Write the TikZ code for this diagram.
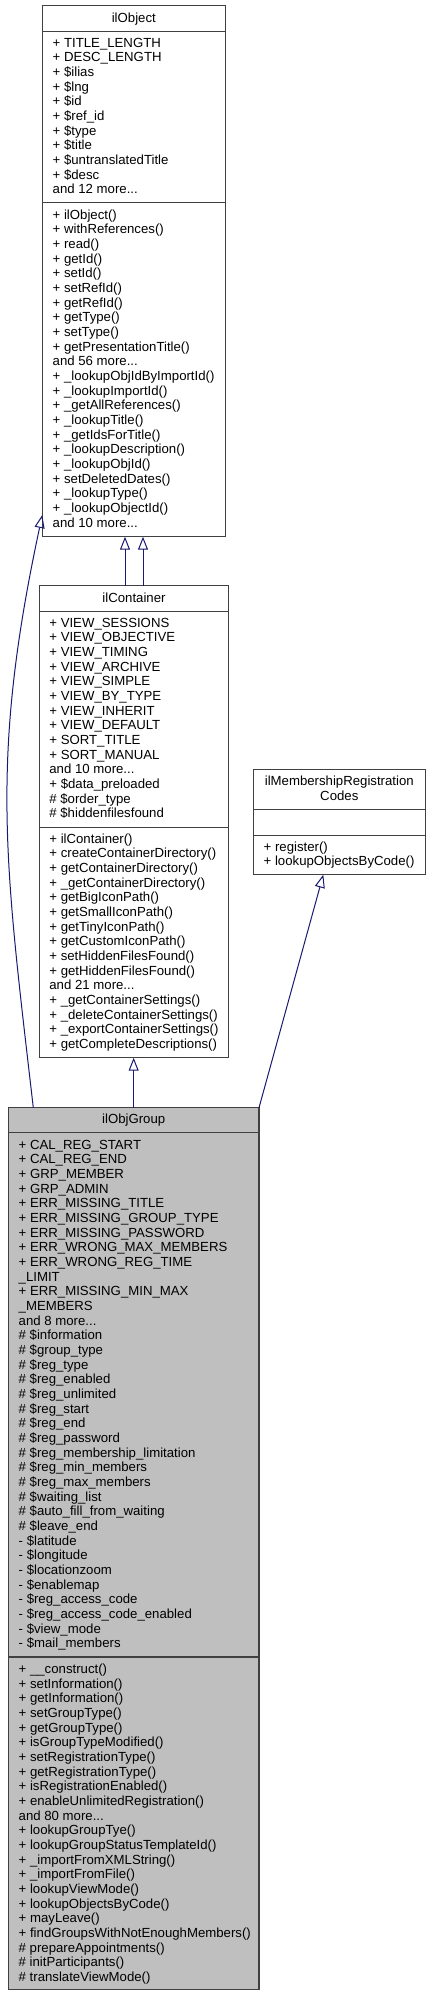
\documentclass[tikz,border=0pt]{standalone}
\usepackage{fontspec}
\setmainfont{Liberation Sans}
\usetikzlibrary{arrows.meta}
\definecolor{edgeblue}{HTML}{191970}
\definecolor{boxline}{HTML}{404040}
\definecolor{grpfill}{HTML}{BFBFBF}
\newcommand\mydots{...}
\tikzset{
  classbox/.style={draw=boxline, line width=1.1bp, rectangle, inner sep=0pt, outer sep=0pt, anchor=north west},
  sepline/.style={draw=boxline, line width=1.1bp},
  txt/.style={anchor=base west, inner sep=0pt, outer sep=0pt, font=\fontsize{13.2bp}{14.7bp}\selectfont},
  ttl/.style={anchor=base, inner sep=0pt, outer sep=0pt, font=\fontsize{13.2bp}{14.7bp}\selectfont},
  inherit/.style={draw=edgeblue, line width=1bp, -{Triangle[open, length=13bp, width=10bp]}},
}
\begin{document}
\begin{tikzpicture}[x=1bp,y=-1bp]
\useasboundingbox (0,0) rectangle (431,1996);

% ---------- ilObject ----------
\node[classbox, minimum width=183bp, minimum height=531bp] (obj) at (42.3,5.7) {};
\draw[sepline] (42.3,31.3) -- (225.3,31.3);
\draw[sepline] (42.3,202.7) -- (225.3,202.7);
\node[ttl] (objtitle) at (133.8,22.1) {ilObject};
\foreach \mytext [count=\i from 0] in {+ TITLE\_LENGTH, + DESC\_LENGTH, + \$ilias, + \$lng, + \$id, + \$ref\_id, + \$type, + \$title, + \$untranslatedTitle, + \$desc, and 12 more\mydots}
  \node[txt] (oa\i) at (52.7,47.1+\i*14.67) {\mytext};
\foreach \mytext [count=\i from 0] in {+ ilObject(), + withReferences(), + read(), + getId(), + setId(), + setRefId(), + getRefId(), + getType(), + setType(), + getPresentationTitle(), and 56 more\mydots, + \_lookupObjIdByImportId(), + \_lookupImportId(), + \_getAllReferences(), + \_lookupTitle(), + \_getIdsForTitle(), + \_lookupDescription(), + \_lookupObjId(), + setDeletedDates(), + \_lookupType(), + \_lookupObjectId(), and 10 more\mydots}
  \node[txt] (om\i) at (52.7,219.1+\i*14.67) {\mytext};

% ---------- ilContainer ----------
\node[classbox, minimum width=189.4bp, minimum height=472bp] (cont) at (39.3,585.7) {};
\draw[sepline] (39.3,611.3) -- (228.7,611.3);
\draw[sepline] (39.3,827.3) -- (228.7,827.3);
\node[ttl] (conttitle) at (134,602.1) {ilContainer};
\foreach \mytext [count=\i from 0] in {+ VIEW\_SESSIONS, + VIEW\_OBJECTIVE, + VIEW\_TIMING, + VIEW\_ARCHIVE, + VIEW\_SIMPLE, + VIEW\_BY\_TYPE, + VIEW\_INHERIT, + VIEW\_DEFAULT, + SORT\_TITLE, + SORT\_MANUAL, and 10 more\mydots, + \$data\_preloaded, \# \$order\_type, \# \$hiddenfilesfound}
  \node[txt] (ca\i) at (49.4,627.1+\i*14.67) {\mytext};
\foreach \mytext [count=\i from 0] in {+ ilContainer(), + createContainerDirectory(), + getContainerDirectory(), + \_getContainerDirectory(), + getBigIconPath(), + getSmallIconPath(), + getTinyIconPath(), + getCustomIconPath(), + setHiddenFilesFound(), + getHiddenFilesFound(), and 21 more\mydots, + \_getContainerSettings(), + \_deleteContainerSettings(), + \_exportContainerSettings(), + getCompleteDescriptions()}
  \node[txt] (cm\i) at (49.4,843.1+\i*14.67) {\mytext};

% ---------- ilMembershipRegistrationCodes ----------
\node[classbox, minimum width=172.4bp, minimum height=105.4bp] (mrc) at (253.3,769.3) {};
\draw[sepline] (253.3,809.3) -- (425.7,809.3);
\draw[sepline] (253.3,835.3) -- (425.7,835.3);
\node[ttl] (mrctitlea) at (339.3,785.5) {ilMembershipRegistration};
\node[ttl] (mrctitleb) at (339.3,800.1) {Codes};
\node[txt] (mm0) at (263.7,851.5) {+ register()};
\node[txt] (mm1) at (263.7,865.9) {+ lookupObjectsByCode()};

% ---------- ilObjGroup ----------
\node[classbox, fill=grpfill, minimum width=250.7bp, minimum height=881.6bp] (grp) at (8.3,1107.7) {};
\draw[sepline] (8.3,1132.7) -- (259,1132.7);
\draw[sepline] (8.3,1657) -- (259,1657);
\node[ttl] (grptitle) at (133.7,1123.5) {ilObjGroup};
\foreach \mytext [count=\i from 0] in {+ CAL\_REG\_START, + CAL\_REG\_END, + GRP\_MEMBER, + GRP\_ADMIN, + ERR\_MISSING\_TITLE, + ERR\_MISSING\_GROUP\_TYPE, + ERR\_MISSING\_PASSWORD, + ERR\_WRONG\_MAX\_MEMBERS, + ERR\_WRONG\_REG\_TIME, \_LIMIT, + ERR\_MISSING\_MIN\_MAX, \_MEMBERS, and 8 more\mydots, \# \$information, \# \$group\_type, \# \$reg\_type, \# \$reg\_enabled, \# \$reg\_unlimited, \# \$reg\_start, \# \$reg\_end, \# \$reg\_password, \# \$reg\_membership\_limitation, \# \$reg\_min\_members, \# \$reg\_max\_members, \# \$waiting\_list, \# \$auto\_fill\_from\_waiting, \# \$leave\_end, - \$latitude, - \$longitude, - \$locationzoom, - \$enablemap, - \$reg\_access\_code, - \$reg\_access\_code\_enabled, - \$view\_mode, - \$mail\_members}
  \node[txt] (ga\i) at (18.7,1149.1+\i*14.67) {\mytext};
\foreach \mytext [count=\i from 0] in {+ \_\_construct(), + setInformation(), + getInformation(), + setGroupType(), + getGroupType(), + isGroupTypeModified(), + setRegistrationType(), + getRegistrationType(), + isRegistrationEnabled(), + enableUnlimitedRegistration(), and 80 more\mydots, + lookupGroupTye(), + lookupGroupStatusTemplateId(), + \_importFromXMLString(), + \_importFromFile(), + lookupViewMode(), + lookupObjectsByCode(), + mayLeave(), + findGroupsWithNotEnoughMembers(), \# prepareAppointments(), \# initParticipants(), \# translateViewMode()}
  \node[txt] (gm\i) at (18.7,1673.5+\i*14.67) {\mytext};

% ---------- inheritance connectors ----------
\draw[inherit] ([xshift=-9bp]cont.north) -- ([xshift=-9bp]cont.north |- obj.south);
\draw[inherit] ([xshift=9bp]cont.north) -- ([xshift=9bp]cont.north |- obj.south);
\draw[inherit] (grp.north) -- (grp.north |- cont.south);
\draw[inherit] ([xshift=25bp]grp.north west) .. controls (4.9,861.6) and (-10.5,761) .. ([yshift=-509.3bp]obj.north west);
\draw[inherit] (grp.north east) -- ([xshift=-16.2bp]mrc.south);
\end{tikzpicture}
\end{document}
